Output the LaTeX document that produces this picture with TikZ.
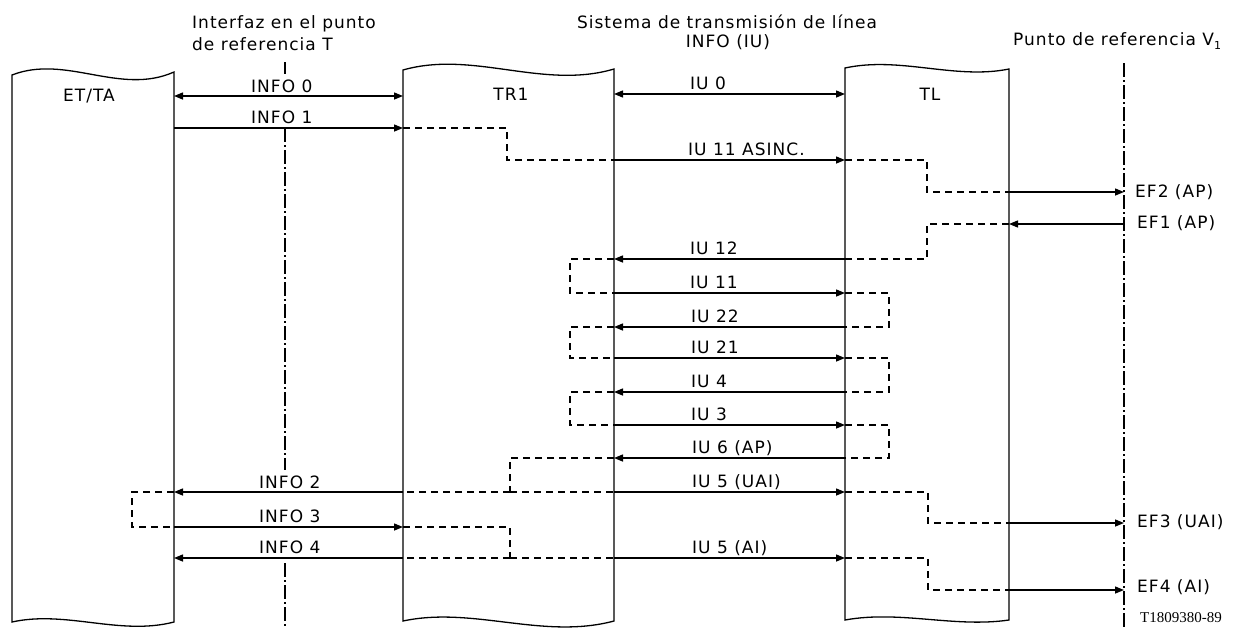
\documentclass[tikz,border=0pt]{standalone}
\usepackage{fontspec}
\setmainfont{DejaVu Sans}[LetterSpace=6]
\newfontfamily\codefont{Liberation Serif}
\usetikzlibrary{arrows.meta,calc}
\begin{document}
\begin{tikzpicture}[x=1pt,y=-1pt,
  col/.style={draw=black, line width=1.3pt, fill=white},
  tip/.tip={Triangle[length=9pt,width=7pt]},
  msg/.style={line width=1.4pt, -tip},
  both/.style={line width=1.4pt, tip-tip},
  dsh/.style={line width=1.4pt, dash pattern=on 7pt off 5pt},
  refl/.style={line width=1.2pt, dash pattern=on 14pt off 3pt on 2pt off 3pt},
  lbl/.style={font=\fontsize{17}{20}\selectfont, inner sep=0pt},
  code/.style={font=\codefont\fontsize{15}{16}\selectfont, inner sep=0pt},
]
\useasboundingbox (0,0) rectangle (1248,630);
\fill[white] (0,0) rectangle (1248,630);

% column edges
\coordinate (ETl) at (12,0);
\coordinate (ETr) at (174,0);
\coordinate (TRl) at (403,0);
\coordinate (TRr) at (614,0);
\coordinate (TLl) at (845,0);
\coordinate (TLr) at (1009,0);
\coordinate (Vref) at (1124,0);
\coordinate (Tref) at (285,0);

% columns
\draw[col] (12,75) .. controls (66,54) and (120,96) .. (174,72) -- (174,622)
  .. controls (120,636) and (66,610) .. (12,622) -- cycle;
\draw[col] (403,70) .. controls (473,50) and (543,90) .. (614,69) -- (614,621)
  .. controls (543,640) and (473,606) .. (403,621) -- cycle;
\draw[col] (845,68) .. controls (900,56) and (955,80) .. (1009,69) -- (1009,620)
  .. controls (954,628) and (900,610) .. (845,620) -- cycle;

\node[lbl] (cET) at (89,96) {ET/TA};
\node[lbl] (cTR) at (511,94) {TR1};
\node[lbl] (cTL) at (930,94) {TL};

% headers
\node[lbl, anchor=base west] (hT1) at (192,28) {Interfaz en el punto};
\node[lbl, anchor=base west] (hT2) at (192,50) {de referencia T};
\node[lbl, anchor=base] (hS1) at (727,28) {Sistema de transmisión de línea};
\node[lbl, anchor=base] (hS2) at (728,47) {INFO (IU)};
\node[lbl, anchor=base west] (hV) at (1013,45) {Punto de referencia V\raisebox{-4pt}{\fontsize{11}{11}\selectfont 1}};

% reference lines
\draw[refl] (Tref |- 0,62) -- (Tref |- 0,74);
\draw[refl] (Tref |- 0,128) -- (Tref |- 0,470);
\draw[refl] (Tref |- 0,563) -- (Tref |- 0,628);
\draw[refl] (Vref |- 0,63) -- (Vref |- 0,628);

% dashed continuations
\draw[dsh] (TRl |- 0,128) -- (507,128) -- (507,160) -- (TRr |- 0,160);
\draw[dsh] (TLl |- 0,160) -- (927,160) -- (927,192) -- (TLr |- 0,192);
\draw[dsh] (TLr |- 0,224) -- (927,224) -- (927,259) -- (TLl |- 0,259);
\draw[dsh] (TRr |- 0,259) -- (570,259) -- (570,293) -- (TRr |- 0,293);
\draw[dsh] (TLl |- 0,293) -- (889,293) -- (889,327) -- (TLl |- 0,327);
\draw[dsh] (TRr |- 0,327) -- (570,327) -- (570,358) -- (TRr |- 0,358);
\draw[dsh] (TLl |- 0,358) -- (889,358) -- (889,392) -- (TLl |- 0,392);
\draw[dsh] (TRr |- 0,392) -- (570,392) -- (570,425) -- (TRr |- 0,425);
\draw[dsh] (TLl |- 0,425) -- (889,425) -- (889,458) -- (TLl |- 0,458);
\draw[dsh] (TRr |- 0,458) -- (510,458) -- (510,492) coordinate (j1);
\draw[dsh] (j1) -- (TRl |- 0,492);
\draw[dsh] (j1) -- (TRr |- 0,492);
\draw[dsh] (ETr |- 0,492) -- (132,492) -- (132,527) -- (ETr |- 0,527);
\draw[dsh] (TRl |- 0,527) -- (510,527) -- (510,558) coordinate (j2);
\draw[dsh] (j2) -- (TRl |- 0,558);
\draw[dsh] (j2) -- (TRr |- 0,558);
\draw[dsh] (TLl |- 0,492) -- (928,492) -- (928,523) -- (TLr |- 0,523);
\draw[dsh] (TLl |- 0,558) -- (928,558) -- (928,590) -- (TLr |- 0,590);

% messages
\draw[both] (ETr |- 0,96) -- (TRl |- 0,96);
\draw[msg] (ETr |- 0,128) -- (TRl |- 0,128);
\draw[both] (TRr |- 0,94) -- (TLl |- 0,94);
\draw[msg] (TRr |- 0,160) -- (TLl |- 0,160);
\draw[msg] (TLr |- 0,192) -- (Vref |- 0,192);
\draw[msg] (Vref |- 0,224) -- (TLr |- 0,224);
\draw[msg] (TLl |- 0,259) -- (TRr |- 0,259);
\draw[msg] (TRr |- 0,293) -- (TLl |- 0,293);
\draw[msg] (TLl |- 0,327) -- (TRr |- 0,327);
\draw[msg] (TRr |- 0,358) -- (TLl |- 0,358);
\draw[msg] (TLl |- 0,392) -- (TRr |- 0,392);
\draw[msg] (TRr |- 0,425) -- (TLl |- 0,425);
\draw[msg] (TLl |- 0,458) -- (TRr |- 0,458);
\draw[msg] (TRl |- 0,492) -- (ETr |- 0,492);
\draw[msg] (TRr |- 0,492) -- (TLl |- 0,492);
\draw[msg] (ETr |- 0,527) -- (TRl |- 0,527);
\draw[msg] (TRl |- 0,558) -- (ETr |- 0,558);
\draw[msg] (TRr |- 0,558) -- (TLl |- 0,558);
\draw[msg] (TLr |- 0,523) -- (Vref |- 0,523);
\draw[msg] (TLr |- 0,590) -- (Vref |- 0,590);

% labels
\node[lbl, anchor=base west] (l0) at (251,92) {INFO 0};
\node[lbl, anchor=base west] (l1) at (251,123) {INFO 1};
\node[lbl, anchor=base west] (l2) at (259,488) {INFO 2};
\node[lbl, anchor=base west] (l3) at (259,522) {INFO 3};
\node[lbl, anchor=base west] (l4) at (259,553) {INFO 4};
\node[lbl, anchor=base west] (u0) at (690,89) {IU 0};
\node[lbl, anchor=base west] (u1) at (688,155) {IU 11 ASINC.};
\node[lbl, anchor=base west] (u2) at (690,254) {IU 12};
\node[lbl, anchor=base west] (u3) at (690,288) {IU 11};
\node[lbl, anchor=base west] (u4) at (691,322) {IU 22};
\node[lbl, anchor=base west] (u5) at (691,353) {IU 21};
\node[lbl, anchor=base west] (u6) at (691,387) {IU 4};
\node[lbl, anchor=base west] (u7) at (691,420) {IU 3};
\node[lbl, anchor=base west] (u8) at (692,453) {IU 6 (AP)};
\node[lbl, anchor=base west] (u9) at (692,487) {IU 5 (UAI)};
\node[lbl, anchor=base west] (u10) at (692,553) {IU 5 (AI)};
\node[lbl, anchor=base west] (e2) at (1135,197) {EF2 (AP)};
\node[lbl, anchor=base west] (e1) at (1137,228) {EF1 (AP)};
\node[lbl, anchor=base west] (e3) at (1137,527) {EF3 (UAI)};
\node[lbl, anchor=base west] (e4) at (1137,592) {EF4 (AI)};
\node[code, anchor=base west] (fig) at (1140,622) {T1809380-89};
\end{tikzpicture}
\end{document}
